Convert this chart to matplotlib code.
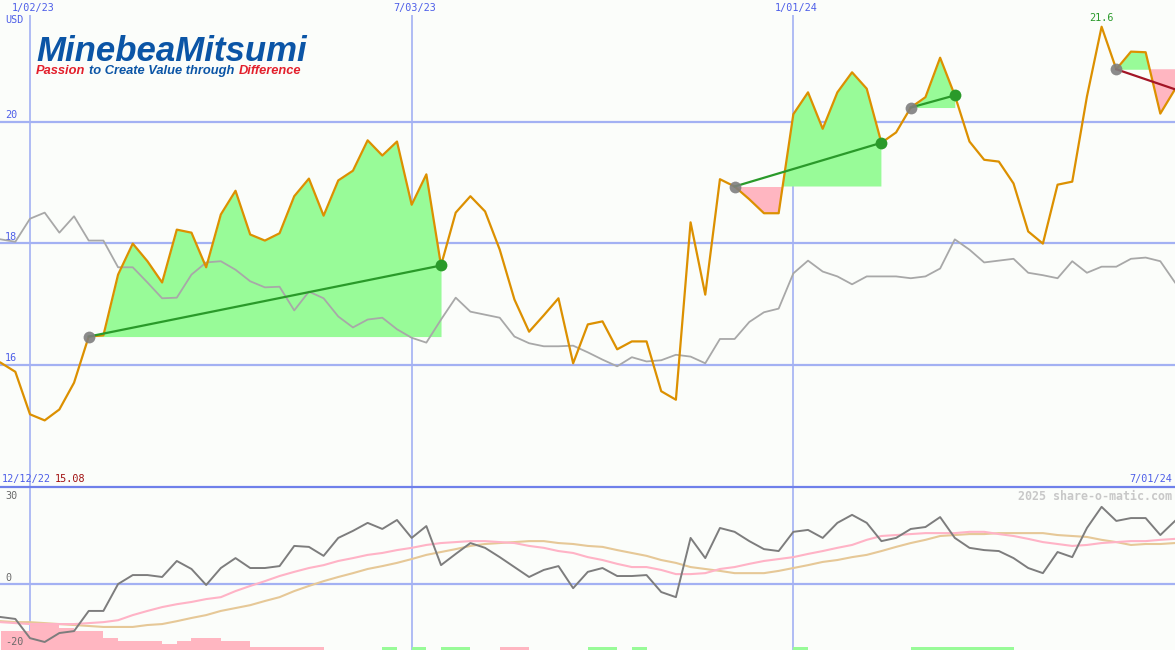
import matplotlib
matplotlib.use('Agg')
import matplotlib.pyplot as plt
import matplotlib.dates as mdates
import numpy as np
import pandas as pd

W, H = 1175, 650

# weekly closes, 12/19/22 .. 7/01/24
weeks = pd.date_range('2022-12-19', periods=81, freq='7D')

price = [16.03, 15.88, 15.18, 15.08, 15.26, 15.70, 16.46, 16.48, 17.48, 17.99,
         17.70, 17.35, 18.22, 18.17, 17.60, 18.47, 18.86, 18.14, 18.04, 18.16,
         18.77, 19.06, 18.45, 19.03, 19.19, 19.69, 19.44, 19.67, 18.63, 19.13,
         17.63, 18.50, 18.77, 18.52, 17.89, 17.07, 16.54, 16.81, 17.09, 16.02,
         16.66, 16.71, 16.25, 16.38, 16.38, 15.56, 15.42, 18.34, 17.15, 19.05,
         18.93, 18.72, 18.49, 18.49, 20.12, 20.48, 19.88, 20.48, 20.81, 20.54,
         19.65, 19.82, 20.23, 20.40, 21.05, 20.43, 19.67, 19.37, 19.34, 18.98,
         18.19, 17.99, 18.96, 19.01, 20.41, 21.56, 20.86, 21.15, 21.14, 20.13,
         20.53]

# benchmark, rescaled to price axis
index_line = [18.06, 18.02, 18.40, 18.50, 18.17, 18.44, 18.04, 18.04, 17.60, 17.60,
              17.35, 17.09, 17.10, 17.48, 17.68, 17.70, 17.56, 17.37, 17.27, 17.28,
              16.89, 17.20, 17.09, 16.79, 16.61, 16.74, 16.77, 16.58, 16.44, 16.36,
              16.74, 17.10, 16.87, 16.82, 16.77, 16.46, 16.35, 16.30, 16.30, 16.31,
              16.20, 16.08, 15.97, 16.12, 16.05, 16.07, 16.16, 16.13, 16.02, 16.42,
              16.42, 16.70, 16.86, 16.92, 17.50, 17.71, 17.53, 17.45, 17.32, 17.45,
              17.45, 17.45, 17.42, 17.45, 17.58, 18.06, 17.89, 17.68, 17.71, 17.74,
              17.51, 17.47, 17.42, 17.70, 17.51, 17.61, 17.61, 17.74, 17.76, 17.70,
              17.35]

# lower panel
momentum = [-10.3, -10.9, -16.9, -18.1, -15.3, -14.7, -8.4, -8.4, 0.0, 2.8,
            2.8, 2.2, 7.2, 4.7, -0.3, 5.0, 8.1, 5.0, 5.0, 5.6,
            11.9, 11.6, 8.8, 14.4, 16.6, 19.1, 17.2, 20.0, 14.4, 18.1,
            5.9, 9.4, 12.8, 11.3, 8.4, 5.3, 2.2, 4.4, 5.6, -1.3,
            3.8, 5.0, 2.5, 2.5, 2.8, -2.5, -4.1, 14.4, 8.1, 17.5,
            16.3, 13.4, 10.9, 10.3, 16.3, 16.9, 14.4, 19.1, 21.6, 19.1,
            13.4, 14.4, 17.2, 17.8, 20.9, 14.4, 11.3, 10.6, 10.3, 8.1,
            5.0, 3.4, 10.0, 8.4, 17.5, 24.1, 19.7, 20.6, 20.6, 15.3,
            19.7]

avg_fast = [-11.9, -12.2, -12.5, -12.5, -12.5, -12.5, -12.2, -11.9, -11.3, -9.7,
            -8.4, -7.2, -6.3, -5.6, -4.7, -4.1, -2.2, -0.6, 0.9, 2.5,
            3.8, 5.0, 5.9, 7.2, 8.1, 9.1, 9.7, 10.6, 11.3, 12.2,
            12.8, 13.1, 13.4, 13.4, 13.1, 12.8, 11.9, 11.3, 10.3, 9.7,
            8.4, 7.5, 6.3, 5.3, 5.3, 4.4, 3.1, 3.1, 3.4, 4.7,
            5.3, 6.3, 7.2, 7.8, 8.4, 9.4, 10.3, 11.3, 12.2, 13.8,
            15.0, 15.3, 15.6, 15.9, 15.9, 15.9, 16.3, 16.3, 15.6, 15.0,
            14.1, 13.1, 12.5, 11.9, 12.2, 12.8, 13.1, 13.4, 13.4, 13.8,
            14.1]

avg_slow = [-11.6, -11.9, -11.9, -12.2, -12.5, -12.8, -13.1, -13.4, -13.4, -13.4,
            -12.8, -12.5, -11.6, -10.6, -9.7, -8.4, -7.5, -6.6, -5.3, -4.1,
            -2.2, -0.6, 0.9, 2.2, 3.4, 4.7, 5.6, 6.6, 7.8, 9.1,
            10.0, 10.9, 11.9, 12.5, 12.8, 13.1, 13.4, 13.4, 12.8, 12.5,
            11.9, 11.6, 10.6, 9.7, 8.8, 7.5, 6.6, 5.3, 4.7, 4.1,
            3.4, 3.4, 3.4, 4.1, 5.0, 5.9, 6.9, 7.5, 8.4, 9.1,
            10.3, 11.6, 12.8, 13.8, 15.0, 15.3, 15.6, 15.6, 15.9, 15.9,
            15.9, 15.9, 15.3, 15.0, 14.7, 13.8, 13.1, 12.2, 12.5, 12.5,
            12.8]

signal = [-5.9, -5.9, -7.8, -7.8, -6.9, -5.9, -5.9, -3.8, -2.8, -2.8,
          -2.8, -1.9, -2.8, -3.8, -3.8, -2.8, -2.8, -0.9, -0.9, -0.9,
          -0.9, -0.9, 0, 0, 0, 0, 0.9, 0, 0.9, 0,
          0.9, 0.9, 0, 0, -0.9, -0.9, 0, 0, 0, 0,
          0.9, 0.9, 0, 0.9, 0, 0, 0, 0, 0, 0,
          0, 0, 0, 0, 0.9, 0, 0, 0, 0, 0,
          0, 0, 0.9, 0.9, 0.9, 0.9, 0.9, 0.9, 0.9, 0,
          0, 0, 0, 0, 0, 0, 0, 0, 0, 0,
          0]

# trades (week index of entry / exit), last one still open
trade_entry = [6, 50, 62, 76]
trade_exit = [30, 60, 65, 80]
trade_open = [False, False, False, True]

date_lines = ['2023-01-02', '2023-07-03', '2024-01-01']
date_labels = ['1/02/23', '7/03/23', '1/01/24']
price_ticks = [16, 18, 20]

bg = '#fbfdfa'
grid_c = '#a3b1f3'
txt_blue = '#4d5ee8'
orange = '#dc9000'
green_fill = '#98fb98'
pink_fill = '#ffb6c1'
green_line = '#2a9a2a'
red_line = '#a31526'
mono = 'DejaVu Sans Mono'

x = mdates.date2num(weeks)
step = x[1] - x[0]
price = np.array(price)
x0 = x[0] - 0.044 * step
x1 = x[-1]

fig = plt.figure(figsize=(W / 100, H / 100), dpi=100, facecolor=bg)
ax = fig.add_axes([0, 1 - 486 / H, 1, 486 / H], facecolor=bg)
ax2 = fig.add_axes([0, 0, 1, 163 / H], facecolor=bg)

for a in (ax, ax2):
    a.set_xlim(x0, x1)
    a.set_xticks([])
    a.set_yticks([])
    for s in a.spines.values():
        s.set_visible(False)

# ---- upper panel
ax.set_ylim(14, 22)
for p in price_ticks:
    ax.axhline(p, color=grid_c, lw=1.6, zorder=1)
    ax.text(5 / W, p + 0.02, str(p), transform=ax.get_yaxis_transform(),
            color=txt_blue, fontsize=7.3, family=mono, va='bottom')
for d in date_lines:
    ax.vlines(mdates.datestr2num(d), 14, 21.75, color=grid_c, lw=1.2, zorder=1)

ax.plot(x, index_line, color='#a8a8a8', lw=1.3, zorder=3)

for e, xx, op in zip(trade_entry, trade_exit, trade_open):
    xs = x[e:xx + 1]
    ps = price[e:xx + 1]
    base = price[e]
    ax.fill_between(xs, ps, base, where=ps >= base, interpolate=True,
                    color=green_fill, lw=0, zorder=2)
    ax.fill_between(xs, ps, base, where=ps <= base, interpolate=True,
                    color=pink_fill, lw=0, zorder=2)
    win = price[xx] >= base
    ax.plot([x[e], x[xx]], [base, price[xx]], color=green_line if win else red_line,
            lw=1.6, zorder=5)

ax.plot(x, price, color=orange, lw=1.6, zorder=4)

for e, xx, op in zip(trade_entry, trade_exit, trade_open):
    ax.plot(x[e], price[e], 'o', ms=8.5, color='#7f7f7f', alpha=0.9, mec='none', zorder=6)
    if not op:
        ax.plot(x[xx], price[xx], 'o', ms=8.5, color=green_line, mec='none', zorder=6)

imax = int(np.argmax(price))
ax.annotate(f'{price[imax]:.1f}', (x[imax], price[imax]), xytext=(0, 3),
            textcoords='offset points', ha='center', va='bottom',
            color=green_line, fontsize=7.3, family=mono)

# ---- lower panel
ax2.set_ylim(-20.6, 30.3)
ax2.axhline(0, color=grid_c, lw=1.6, zorder=1)
for d in date_lines:
    ax2.axvline(mdates.datestr2num(d), color=grid_c, lw=1.2, zorder=1)
ax2.spines['top'].set_visible(True)
ax2.spines['top'].set_color('#6f80ea')
ax2.spines['top'].set_linewidth(1.6)

sig = np.array(signal)
ax2.bar(x, np.abs(sig), width=step, bottom=-20.6, align='edge',
        color=np.where(sig > 0, green_fill, pink_fill), lw=0, zorder=2)
ax2.plot(x, avg_slow, color='#e6c897', lw=1.5, zorder=3)
ax2.plot(x, avg_fast, color='#ffb3c6', lw=1.5, zorder=3)
ax2.plot(x, momentum, color='#7d7d7d', lw=1.4, zorder=4)

for v, y in [('30', 496), ('0', 578), ('-20', 642)]:
    fig.text(5 / W, 1 - y / H, v, color='#6a6a6a', fontsize=7.3, family=mono, va='center')

# ---- labels in pixel positions
def ftext(px, py, s, **kw):
    kw.setdefault('fontsize', 7.3)
    kw.setdefault('family', mono)
    kw.setdefault('va', 'center')
    return fig.text(px / W, 1 - py / H, s, **kw)

for d, lab in zip(date_lines, date_labels):
    xp = (mdates.datestr2num(d) - x0) / (x1 - x0) * W
    ftext(xp + 3, 8, lab, color=txt_blue, ha='center')
ftext(5, 20, 'USD', color=txt_blue)
ftext(2, 479, '12/12/22', color=txt_blue)
ftext(55, 479, f'{price.min():.2f}', color='#a01010')
ftext(1172, 479, '7/01/24', color=txt_blue, ha='right')
ftext(1172, 496, '2025 share-o-matic.com', color='#c8c8c8', ha='right',
      fontsize=8.4, weight='bold')

# logo
logo_blue = '#0b55a6'
logo_red = '#e3202c'
logo_font = dict(family='Liberation Sans', weight='bold', style='italic', va='baseline')
ftext(36, 61, 'MinebeaMitsumi', color=logo_blue, fontsize=25, **logo_font)

renderer = fig.canvas.get_renderer()
xpos = 36
for part, col in [('Passion', logo_red), ('to Create Value through', logo_blue),
                  ('Difference', logo_red)]:
    t = ftext(xpos, 74, part, color=col, fontsize=9.3, **logo_font)
    xpos = t.get_window_extent(renderer).x1 + 4

fig.savefig('out.png', dpi=100, facecolor=bg)
